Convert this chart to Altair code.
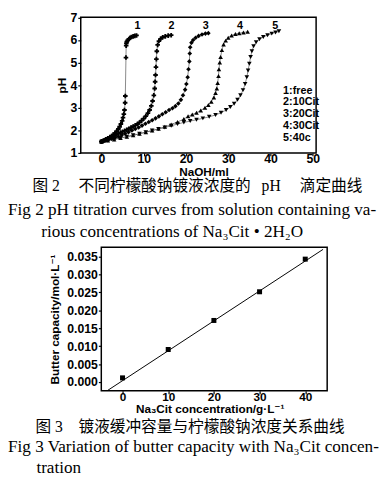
import altair as alt
import pandas as pd

# ---------------- Fig 2 : pH titration curves ----------------
series_names = ["1:free", "2:10Cit", "3:20Cit", "4:30Cit", "5:40c"]
curve_numbers = ["1", "2", "3", "4", "5"]

c1_v = [0.0, 0.4, 0.8, 1.2, 1.6, 2.0, 2.4, 2.8, 3.2, 3.6, 4.0, 4.3, 4.6, 4.9, 5.1,
        5.3, 5.45, 5.6, 5.65, 5.8, 5.85, 5.9, 6.0, 6.2, 6.5, 6.8, 7.1, 7.5, 7.9, 8.3]
c1_ph = [1.50, 1.53, 1.56, 1.60, 1.64, 1.69, 1.75, 1.81, 1.88, 1.96, 2.06, 2.16, 2.28, 2.42, 2.56,
         2.72, 2.90, 3.22, 3.52, 5.22, 5.75, 5.85, 5.92, 5.98, 6.04, 6.09, 6.13, 6.16, 6.18, 6.20]

c2_v = [0, 0.5, 1, 1.5, 2, 2.5, 3, 3.5, 4, 4.5, 5, 5.5, 6, 6.5, 7, 7.5, 8, 8.5, 9, 9.5,
        10, 10.5, 11, 11.4, 11.8, 12.1, 12.4, 12.6, 12.7, 12.8, 12.9, 13.0, 13.1, 13.3, 13.6,
        14.0, 14.5, 15.1, 15.8, 16.5]
c2_ph = [1.50, 1.55, 1.60, 1.65, 1.70, 1.74, 1.78, 1.82, 1.86, 1.90, 1.94, 1.98, 2.02, 2.07, 2.12,
         2.17, 2.22, 2.28, 2.35, 2.43, 2.52, 2.63, 2.76, 2.90, 3.08, 3.30, 3.55, 3.85, 4.15, 4.45,
         4.80, 5.15, 5.50, 5.78, 5.95, 6.05, 6.12, 6.16, 6.19, 6.21]

c3_v = [0, 0.8, 1.6, 2.4, 3.2, 4.0, 4.8, 5.6, 6.4, 7.2, 8.0, 8.8, 9.6, 10.4, 11.2, 12.0, 12.8,
        13.6, 14.4, 15.2, 16.0, 16.8, 17.5, 18.2, 18.8, 19.3, 19.8, 20.1, 20.4, 20.6, 20.8, 20.9,
        21.0, 21.3, 21.7, 22.3, 23.0, 23.8, 24.6, 25.3]
c3_ph = [1.50, 1.54, 1.58, 1.63, 1.68, 1.73, 1.79, 1.85, 1.92, 1.99, 2.06, 2.13, 2.21, 2.29, 2.37,
         2.45, 2.53, 2.62, 2.71, 2.80, 2.90, 2.98, 3.07, 3.19, 3.35, 3.55, 3.80, 4.05, 4.35, 4.70,
         5.05, 5.40, 5.68, 5.88, 6.00, 6.10, 6.18, 6.24, 6.28, 6.30]

c4_v = [0, 1.5, 3, 4.5, 6, 7.5, 9, 10.5, 12, 13.5, 15, 16.5, 18, 19.5, 20.5, 21.5, 22.5, 23.5,
        24.5, 25.3, 26.0, 26.6, 27.0, 27.3, 27.5, 27.7, 27.8, 28.0, 28.2, 28.5, 28.9, 29.4, 30.0,
        30.8, 31.7, 32.6, 33.6, 34.6]
c4_ph = [1.50, 1.55, 1.60, 1.66, 1.72, 1.78, 1.85, 1.92, 1.99, 2.07, 2.16, 2.26, 2.37, 2.50, 2.62,
         2.70, 2.78, 2.88, 3.00, 3.12, 3.27, 3.45, 3.65, 3.85, 4.10, 4.40, 4.70, 5.00, 5.25, 5.55,
         5.80, 5.97, 6.10, 6.20, 6.26, 6.30, 6.33, 6.36]

c5_v = [0, 1.5, 3, 4.5, 6, 7.5, 9, 10.5, 12, 13.5, 15, 16.5, 18, 19.5, 21, 22.5, 24, 25.5, 27,
        28.3, 29.5, 30.5, 31.4, 32.2, 32.9, 33.5, 34.0, 34.4, 34.7, 35.0, 35.3, 35.6, 36.0, 36.6,
        37.4, 38.3, 39.3, 40.3, 41.2, 42.0]
c5_ph = [1.50, 1.55, 1.60, 1.66, 1.72, 1.78, 1.85, 1.92, 1.99, 2.06, 2.13, 2.20, 2.28, 2.35, 2.41,
         2.47, 2.53, 2.60, 2.68, 2.78, 2.90, 3.03, 3.18, 3.35, 3.55, 3.78, 4.05, 4.35, 4.65, 4.95,
         5.25, 5.50, 5.72, 5.90, 6.03, 6.13, 6.21, 6.28, 6.33, 6.38]

curve_label_v = [8.5, 16.6, 24.7, 32.8, 41.1]
curve_label_ph = [6.62, 6.62, 6.62, 6.62, 6.62]
ph_ticks = [1, 2, 3, 4, 5, 6, 7]
naoh_ticks = [0, 10, 20, 30, 40, 50]

# ---------------- Fig 3 : buffer capacity ----------------
conc = [0, 10, 20, 30, 40]
capacity = [0.00117, 0.00908, 0.01718, 0.02518, 0.03428]
fit_conc = [-3.4, 43.9]
fit_capacity = [-0.00245, 0.0370]
cap_ticks = [0.0, 0.005, 0.010, 0.015, 0.020, 0.025, 0.030, 0.035]
conc_ticks = [0, 10, 20, 30, 40]

# ---------------- captions ----------------
fig2_head = "图 2"
fig2_cn_a = "不同柠檬酸钠镀液浓度的"
fig2_cn_ph = "pH"
fig2_cn_b = "滴定曲线"
fig2_en_1 = "Fig 2 pH titration curves from solution containing va-"
fig2_en_2 = "rious concentrations of Na₃Cit • 2H₂O"
fig3_head = "图 3"
fig3_cn = "镀液缓冲容量与柠檬酸钠浓度关系曲线"
fig3_en_1 = "Fig 3 Variation of butter capacity with Na₃Cit concen-"
fig3_en_2 = "tration"

# ---------------- tables ----------------
rows = []
for name, vs, ps in zip(series_names, [c1_v, c2_v, c3_v, c4_v, c5_v],
                        [c1_ph, c2_ph, c3_ph, c4_ph, c5_ph]):
    for i, (v, p) in enumerate(zip(vs, ps)):
        rows.append({"series": name, "v": v, "pH": p, "i": i})
df_curves = pd.DataFrame(rows)
df_curve_labels = pd.DataFrame({"v": curve_label_v, "pH": curve_label_ph, "t": curve_numbers})
df_cap = pd.DataFrame({"c": conc, "b": capacity})
df_fit = pd.DataFrame({"c": fit_conc, "b": fit_capacity})

W, H = 382, 472
SANS = "Liberation Sans, Arial, DejaVu Sans"
SERIF = "Liberation Serif, DejaVu Serif, Noto Sans CJK SC"

common_axis = dict(domain=False, grid=False, tickSize=3, tickWidth=1.2, tickColor="black",
                   labelFont=SANS, labelFontWeight="bold", labelColor="black",
                   labelFlush=False, titleFont=SANS, titleFontSize=12,
                   titleFontWeight="bold", titleColor="black")

# panel 1 geometry
X1_DOM = [-4.9, 50.8]
Y1_DOM = [1, 7]
xs1 = alt.Scale(domain=X1_DOM, range=[74.3, 314.7], nice=False, zero=False)
ys1 = alt.Scale(domain=Y1_DOM, range=[143, 4.5], nice=False, zero=False)
ax1x = alt.Axis(orient="bottom", offset=143 - H, values=naoh_ticks, title="NaOH/ml",
                labelFontSize=12.5, labelPadding=-3, titleBaseline="alphabetic", titleY=23,
                titleX=199.7, **common_axis)
ax1y = alt.Axis(orient="left", offset=-74.3, values=ph_ticks, format="d", title="pH",
                labelFontSize=12.5, labelPadding=1, titlePadding=2, **common_axis)

frame1 = alt.Chart(pd.DataFrame({"k": [0]})).mark_rect(
    filled=False, color="black", strokeWidth=1.5).encode(
    x=alt.XDatum(X1_DOM[0], type="quantitative", scale=xs1, axis=ax1x),
    x2=alt.X2Datum(X1_DOM[1]),
    y=alt.YDatum(Y1_DOM[0], type="quantitative", scale=ys1, axis=ax1y),
    y2=alt.Y2Datum(Y1_DOM[1]))

x1 = alt.X("v:Q", scale=xs1, axis=ax1x)
y1 = alt.Y("pH:Q", scale=ys1, axis=ax1y)
lines1 = alt.Chart(df_curves).mark_line(color="#555555", strokeWidth=0.7).encode(
    x=x1, y=y1, detail="series:N", order="i:Q")
points1 = alt.Chart(df_curves).mark_point(filled=True, color="black", opacity=1, size=22).encode(
    x=x1, y=y1,
    shape=alt.Shape("series:N",
                    scale=alt.Scale(domain=series_names,
                                    range=["cross", "cross", "diamond", "triangle-up", "triangle-down"]),
                    legend=alt.Legend(orient="none", legendX=270, legendY=74, title=None,
                                      symbolOpacity=0, symbolSize=0, symbolStrokeWidth=0,
                                      labelFont=SANS, labelFontSize=11, labelFontWeight="bold",
                                      labelColor="black", labelOffset=0, rowPadding=0, padding=0)))
labels1 = alt.Chart(df_curve_labels).mark_text(
    font=SANS, fontSize=11, fontWeight="bold", color="black").encode(
    x=alt.X("v:Q", scale=xs1, axis=ax1x), y=alt.Y("pH:Q", scale=ys1, axis=ax1y), text="t:N")
panel1 = alt.layer(frame1, lines1, points1, labels1)

# panel 2 geometry
X2_DOM = [-4.65, 44.8]
Y2_DOM = [-0.00245, 0.0376]
xs2 = alt.Scale(domain=X2_DOM, range=[95.3, 326], nice=False, zero=False)
ys2 = alt.Scale(domain=Y2_DOM, range=[386, 239.3], nice=False, zero=False)
ax2x = alt.Axis(orient="bottom", offset=386 - H, values=conc_ticks, format="d",
                title="Na₃Cit concentration/g·L⁻¹", labelFontSize=12, labelPadding=-2,
                titleBaseline="alphabetic", titleY=22.5, titleX=206, **common_axis)
ax2y = alt.Axis(orient="left", offset=-95.3, values=cap_ticks, format=".3f",
                title="Butter capacity/mol·L⁻¹", labelFontSize=12.5, labelPadding=1,
                titlePadding=5, **common_axis)

frame2 = alt.Chart(pd.DataFrame({"k": [0]})).mark_rect(
    filled=False, color="black", strokeWidth=1.5).encode(
    x=alt.XDatum(X2_DOM[0], type="quantitative", scale=xs2, axis=ax2x),
    x2=alt.X2Datum(X2_DOM[1]),
    y=alt.YDatum(Y2_DOM[0], type="quantitative", scale=ys2, axis=ax2y),
    y2=alt.Y2Datum(Y2_DOM[1]))
x2 = alt.X("c:Q", scale=xs2, axis=ax2x)
y2 = alt.Y("b:Q", scale=ys2, axis=ax2y)
fit2 = alt.Chart(df_fit).mark_line(color="black", strokeWidth=1).encode(x=x2, y=y2)
points2 = alt.Chart(df_cap).mark_square(color="black", opacity=1, size=26).encode(x=x2, y=y2)
panel2 = alt.layer(frame2, fit2, points2)


def caption(text, px, py, size, font=SERIF):
    return alt.Chart(pd.DataFrame({"t": [text]})).mark_text(
        align="left", baseline="alphabetic", font=font, fontSize=size, color="black").encode(
        text="t:N", x=alt.value(px), y=alt.value(py))


caps = [
    caption(fig2_head, 25, 181.5, 16),
    caption(fig2_cn_a, 72, 181.5, 16),
    caption(fig2_cn_ph, 259, 181.5, 16),
    caption(fig2_cn_b, 298, 181.5, 16),
    caption(fig2_en_1, 0, 206, 17.5),
    caption(fig2_en_2, 34, 228.7, 17.5),
    caption(fig3_head, 28, 428, 16),
    caption(fig3_cn, 72, 428, 16),
    caption(fig3_en_1, 0, 448.7, 17.5),
    caption(fig3_en_2, 29, 470, 17.5),
]

chart = alt.layer(panel1, panel2, *caps).resolve_scale(
    x="independent", y="independent", shape="independent").resolve_axis(
    x="independent", y="independent").properties(
    width=W, height=H, autosize=alt.AutoSizeParams(type="none"), padding=0).configure_view(stroke=None)

chart.save("out.html", embed_options={"renderer": "svg", "actions": False})
